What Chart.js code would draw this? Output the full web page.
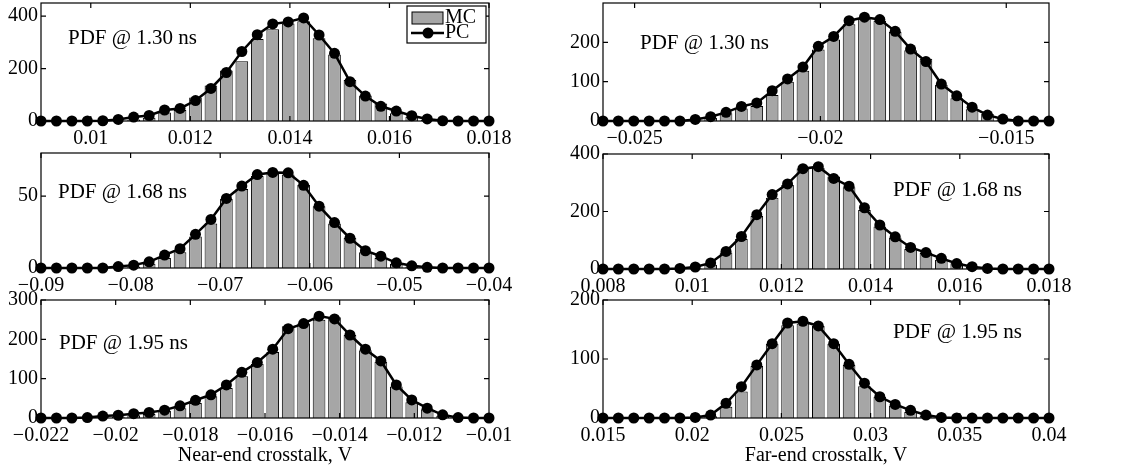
<!DOCTYPE html>
<html>
<head>
<meta charset="utf-8">
<script src="https://cdn.jsdelivr.net/npm/chart.js@4.4.1/dist/chart.umd.min.js"></script>
<style>
  body { margin: 0; background: #fff; width: 1122px; height: 467px; position: relative; overflow: hidden; }
  canvas { position: absolute; }
</style>
</head>
<body>
<script>
// 30-bin histograms (MC) and polynomial-chaos PDFs (PC) of crosstalk at three instants
const binCount = 30;
const instants = ['1.30', '1.68', '1.95'];

// first / last bin centre of each panel, V
const nearRanges = [[0.009, 0.018], [-0.09, -0.04], [-0.022, -0.01]];
const farRanges = [[-0.02585, -0.01385], [0.008, 0.018], [0.015, 0.04]];

const nearXTicks = [
  [0.01, 0.012, 0.014, 0.016, 0.018],
  [-0.09, -0.08, -0.07, -0.06, -0.05, -0.04],
  [-0.022, -0.02, -0.018, -0.016, -0.014, -0.012, -0.01]
];
const farXTicks = [
  [-0.025, -0.02, -0.015],
  [0.008, 0.01, 0.012, 0.014, 0.016, 0.018],
  [0.015, 0.02, 0.025, 0.03, 0.035, 0.04]
];
const nearYMax = [450, 80, 300];
const farYMax = [300, 400, 200];
const nearYTicks = [[0, 200, 400], [0, 50], [0, 100, 200, 300]];
const farYTicks = [[0, 100, 200], [0, 200, 400], [0, 100, 200]];

// near end
const nearMc130 = [0, 0, 0, 0, 0, 2, 6, 12, 32, 42, 90, 135, 193, 228, 313, 350, 372, 380, 316, 254, 156, 97, 67, 30, 16, 4, 1, 0, 0, 0];
const nearPc130 = [0, 0, 0, 0, 1, 6, 15, 21, 42, 48, 78, 124, 185, 265, 329, 370, 378, 393, 328, 258, 150, 95, 56, 38, 20, 8, 1, 0, 0, 0];
const nearMc168 = [0, 0, 0, 0, 0, 0, 1, 3, 7, 11, 22, 31, 48, 55, 64, 66, 65, 58, 43, 31, 21, 11, 7, 3, 1, 0, 0, 0, 0, 0];
const nearPc168 = [0, 0, 0, 0, 0, 1, 2, 4.3, 9, 13.4, 23.4, 33.8, 48.4, 57, 65, 66.5, 66.2, 57.5, 43, 31.6, 20.7, 12, 8.2, 3.6, 1.5, 0.5, 0, 0, 0, 0];
const nearMc195 = [0, 0, 0, 0, 2, 4, 7, 10, 18, 25, 38, 55, 76, 106, 138, 168, 233, 240, 250, 256, 211, 172, 143, 80, 40, 22, 6, 1, 0, 0];
const nearPc195 = [0, 0, 0, 1, 5, 7, 11, 14, 20, 31, 45, 59, 84, 116, 141, 175, 227, 240, 259, 252, 211, 175, 145, 84, 46, 25, 8, 1, 0, 0];

// far end
const farMc130 = [0, 0, 0, 0, 0, 0, 2, 8, 20, 32, 38, 66, 100, 128, 182, 207, 246, 260, 255, 226, 180, 158, 92, 58, 30, 18, 4, 0, 0, 0];
const farPc130 = [0, 0, 0, 0, 0, 0, 4, 11, 22, 37, 46, 77, 107, 137, 190, 215, 255, 264, 258, 228, 183, 151, 94, 64, 35, 15, 5, 0, 0, 0];
const farMc168 = [0, 0, 0, 0, 0, 0, 3, 15, 57, 104, 184, 248, 292, 350, 352, 322, 284, 205, 148, 110, 70, 56, 32, 20, 7, 2, 0, 0, 0, 0];
const farPc168 = [0, 0, 0, 0, 0, 2, 7, 21, 61, 113, 189, 259, 296, 349, 356, 315, 288, 213, 153, 112, 75, 57, 37, 19, 8, 2, 0, 0, 0, 0];
const farMc195 = [0, 0, 0, 0, 0, 0, 0, 3, 19, 45, 88, 126, 157, 160, 156, 126, 90, 54, 36, 21, 10, 4, 1, 0, 0, 0, 0, 0, 0, 0];
const farPc195 = [0, 0, 0, 0, 0, 0, 1, 5, 25, 53, 90, 126, 161, 164, 156, 126, 91, 59, 36, 23, 13, 5, 1, 0, 0, 0, 0, 0, 0, 0];

const serif = '"Liberation Serif", "DejaVu Serif", serif';
const textFont = { family: serif, size: 20 };

// plot boxes on the page: [left, top, right, bottom]
const panels = [
  { box: [41, 3, 489, 121], range: nearRanges[0], xTicks: nearXTicks[0], yMax: nearYMax[0], yTicks: nearYTicks[0], mc: nearMc130, pc: nearPc130, note: [68, 38], time: instants[0], legend: true },
  { box: [41, 153, 489, 268], range: nearRanges[1], xTicks: nearXTicks[1], yMax: nearYMax[1], yTicks: nearYTicks[1], mc: nearMc168, pc: nearPc168, note: [58, 192], time: instants[1] },
  { box: [41, 300, 489, 418], range: nearRanges[2], xTicks: nearXTicks[2], yMax: nearYMax[2], yTicks: nearYTicks[2], mc: nearMc195, pc: nearPc195, note: [59, 343], time: instants[2], title: 'Near-end crosstalk, V' },
  { box: [603, 3, 1049, 121], range: farRanges[0], xTicks: farXTicks[0], yMax: farYMax[0], yTicks: farYTicks[0], mc: farMc130, pc: farPc130, note: [640, 43], time: instants[0] },
  { box: [603, 154, 1049, 269], range: farRanges[1], xTicks: farXTicks[1], yMax: farYMax[1], yTicks: farYTicks[1], mc: farMc168, pc: farPc168, note: [893, 190], time: instants[1] },
  { box: [603, 300, 1049, 418], range: farRanges[2], xTicks: farXTicks[2], yMax: farYMax[2], yTicks: farYTicks[2], mc: farMc195, pc: farPc195, note: [893, 332], time: instants[2], title: 'Far-end crosstalk, V' }
];

function binCenters(range) {
  const [lo, hi] = range;
  return Array.from({ length: binCount }, (_, i) => lo + (hi - lo) * i / (binCount - 1));
}

function fmt(v) {
  return (v < 0 ? '\u2212' : '') + String(Math.abs(v));
}

// MATLAB-like box with inward ticks on all four sides
const boxPlugin = {
  id: 'boxAxes',
  afterDatasetsDraw(chart) {
    const { ctx, chartArea: a, scales: { x, y } } = chart;
    const tl = 5;
    ctx.save();
    ctx.strokeStyle = '#000';
    ctx.lineWidth = 1.2;
    ctx.strokeRect(a.left, a.top, a.right - a.left, a.bottom - a.top);
    ctx.beginPath();
    x.ticks.forEach(t => {
      const px = x.getPixelForValue(t.value);
      ctx.moveTo(px, a.bottom); ctx.lineTo(px, a.bottom - tl);
      ctx.moveTo(px, a.top); ctx.lineTo(px, a.top + tl);
    });
    y.ticks.forEach(t => {
      const py = y.getPixelForValue(t.value);
      ctx.moveTo(a.left, py); ctx.lineTo(a.left + tl, py);
      ctx.moveTo(a.right, py); ctx.lineTo(a.right - tl, py);
    });
    ctx.stroke();
    ctx.restore();
  },
  afterDraw(chart) {
    const o = chart.options.plugins.boxAxes;
    const ctx = chart.ctx;
    ctx.save();
    ctx.fillStyle = '#000';
    ctx.font = '21px ' + serif;
    ctx.textBaseline = 'middle';
    ctx.textAlign = 'left';
    ctx.fillText('PDF @ ' + o.time + ' ns', o.note[0] - o.origin[0], o.note[1] - o.origin[1]);

    if (o.legend) {
      const [mcSet, pcSet] = [chart.data.datasets[1], chart.data.datasets[0]];
      const lx = 407 - o.origin[0], ly = 6 - o.origin[1];
      ctx.fillStyle = '#fff';
      ctx.fillRect(lx, ly, 79, 37);
      ctx.lineWidth = 1.2;
      ctx.strokeStyle = '#000';
      ctx.strokeRect(lx, ly, 79, 37);
      // MC patch
      ctx.fillStyle = mcSet.backgroundColor;
      ctx.fillRect(lx + 5, ly + 6, 31, 12);
      ctx.lineWidth = 1;
      ctx.strokeRect(lx + 5, ly + 6, 31, 12);
      // PC line with marker
      ctx.lineWidth = pcSet.borderWidth;
      ctx.beginPath();
      ctx.moveTo(lx + 4, ly + 27);
      ctx.lineTo(lx + 37, ly + 27);
      ctx.stroke();
      ctx.beginPath();
      ctx.arc(lx + 21, ly + 27, pcSet.pointRadius, 0, Math.PI * 2);
      ctx.fillStyle = '#000';
      ctx.fill();
      ctx.font = '20px ' + serif;
      ctx.fillText('MC', lx + 38, ly + 12);
      ctx.fillText('PC', lx + 38, ly + 27);
    }
    ctx.restore();
  }
};

const padL = 45, padT = 18, padR = 40;

panels.forEach(p => {
  const [l, t, r, b] = p.box;
  const axisH = p.title ? 52 : 30;
  const canvas = document.createElement('canvas');
  const left = l - padL, top = t - padT;
  canvas.width = (r - l) + padL + padR;
  canvas.height = (b - t) + padT + axisH;
  canvas.style.left = left + 'px';
  canvas.style.top = top + 'px';
  document.body.appendChild(canvas);

  const xs = binCenters(p.range);

  new Chart(canvas, {
    type: 'bar',
    data: {
      datasets: [
        {
          type: 'line',
          label: 'PC',
          data: p.pc.map((v, i) => ({ x: xs[i], y: v })),
          borderColor: '#000',
          borderWidth: 2.5,
          pointRadius: 5.5,
          pointBackgroundColor: '#000',
          pointBorderColor: '#000',
          pointBorderWidth: 0,
          tension: 0,
          clip: false,
          order: 0
        },
        {
          type: 'bar',
          label: 'MC',
          data: p.mc.map((v, i) => ({ x: xs[i], y: v })),
          backgroundColor: '#a6a6a6',
          borderColor: '#000',
          borderWidth: 1,
          barPercentage: 0.82,
          categoryPercentage: 1,
          order: 1
        }
      ]
    },
    options: {
      responsive: false,
      animation: false,
      layout: { padding: { left: 5, top: padT, right: padR, bottom: 0 } },
      plugins: {
        legend: { display: false },
        tooltip: { enabled: false },
        boxAxes: { note: p.note, time: p.time, legend: !!p.legend, origin: [left, top] }
      },
      scales: {
        x: {
          type: 'linear',
          offset: false,
          min: p.range[0],
          max: p.range[1],
          grid: { display: false, drawTicks: false },
          border: { display: false },
          afterBuildTicks: s => { s.ticks = p.xTicks.map(v => ({ value: v })); },
          afterFit: s => { s.height = axisH; },
          ticks: { font: textFont, color: '#000', padding: 6, maxRotation: 0, autoSkip: false, callback: v => fmt(v) },
          title: { display: !!p.title, text: p.title || '', font: textFont, color: '#000', padding: { top: 0, bottom: 2 } }
        },
        y: {
          type: 'linear',
          min: 0,
          max: p.yMax,
          grid: { display: false, drawTicks: false },
          border: { display: false },
          afterBuildTicks: s => { s.ticks = p.yTicks.map(v => ({ value: v })); },
          afterFit: s => { s.width = padL - 5; },
          ticks: { font: textFont, color: '#000', padding: 3, callback: v => fmt(v) }
        }
      }
    },
    plugins: [boxPlugin]
  });
});
</script>
</body>
</html>
